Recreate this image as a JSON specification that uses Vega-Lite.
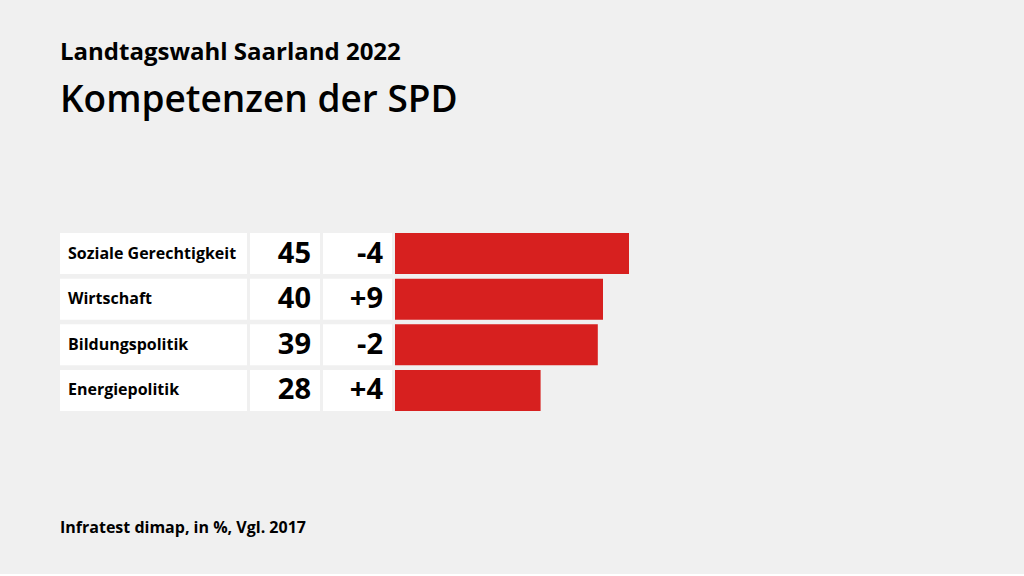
{
  "$schema": "https://vega.github.io/schema/vega-lite/v6.json",
  "background": "#f0f0f0",
  "padding": {"left": 60, "top": 41, "right": 109, "bottom": 36},
  "title": {
    "text": "Landtagswahl Saarland 2022",
    "subtitle": "Kompetenzen der SPD",
    "anchor": "start",
    "frame": "group",
    "font": "Open Sans",
    "fontSize": 24,
    "fontWeight": 700,
    "color": "#000000",
    "subtitleFont": "Open Sans",
    "subtitleFontSize": 37,
    "subtitleFontWeight": 600,
    "subtitleColor": "#000000",
    "subtitlePadding": 18,
    "offset": 114
  },
  "data": {
    "values": [
      {"thema": "Soziale Gerechtigkeit", "wert": 45, "diff": "-4"},
      {"thema": "Wirtschaft", "wert": 40, "diff": "+9"},
      {"thema": "Bildungspolitik", "wert": 39, "diff": "-2"},
      {"thema": "Energiepolitik", "wert": 28, "diff": "+4"}
    ]
  },
  "spacing": 107,
  "vconcat": [
    {
      "spacing": 3,
      "hconcat": [
        {
          "width": 187,
          "height": 178,
          "encoding": {
            "y": {"field": "thema", "type": "nominal", "sort": null, "axis": null, "scale": {"paddingInner": 0.1, "paddingOuter": 0}}
          },
          "layer": [
            {"mark": {"type": "rect", "color": "#ffffff"}},
            {"mark": {"type": "text", "align": "left", "baseline": "middle", "x": 8, "font": "Open Sans", "fontSize": 16, "fontWeight": 700, "color": "#000000"},
             "encoding": {"text": {"field": "thema"}}}
          ]
        },
        {
          "width": 70,
          "height": 178,
          "encoding": {
            "y": {"field": "thema", "type": "nominal", "sort": null, "axis": null, "scale": {"paddingInner": 0.1, "paddingOuter": 0}}
          },
          "layer": [
            {"mark": {"type": "rect", "color": "#ffffff"}},
            {"mark": {"type": "text", "align": "right", "baseline": "middle", "x": 61, "font": "Open Sans", "fontSize": 29, "fontWeight": 700, "color": "#000000"},
             "encoding": {"text": {"field": "wert"}}}
          ]
        },
        {
          "width": 69,
          "height": 178,
          "encoding": {
            "y": {"field": "thema", "type": "nominal", "sort": null, "axis": null, "scale": {"paddingInner": 0.1, "paddingOuter": 0}}
          },
          "layer": [
            {"mark": {"type": "rect", "color": "#ffffff"}},
            {"mark": {"type": "text", "align": "right", "baseline": "middle", "x": 60, "font": "Open Sans", "fontSize": 29, "fontWeight": 700, "color": "#000000"},
             "encoding": {"text": {"field": "diff"}}}
          ]
        },
        {
          "width": 520,
          "height": 178,
          "mark": {"type": "bar", "color": "#d7201f"},
          "encoding": {
            "y": {"field": "thema", "type": "nominal", "sort": null, "axis": null, "scale": {"paddingInner": 0.1, "paddingOuter": 0}},
            "x": {"field": "wert", "type": "quantitative", "axis": null, "scale": {"domain": [0, 100]}}
          }
        }
      ]
    },
    {
      "width": 855,
      "height": 20,
      "data": {"values": [{"quelle": "Infratest dimap, in %, Vgl. 2017"}]},
      "mark": {"type": "text", "align": "left", "baseline": "middle", "x": 0, "y": 10, "font": "Open Sans", "fontSize": 16, "fontWeight": 700, "color": "#000000"},
      "encoding": {"text": {"field": "quelle"}}
    }
  ],
  "config": {"view": {"stroke": null}}
}
